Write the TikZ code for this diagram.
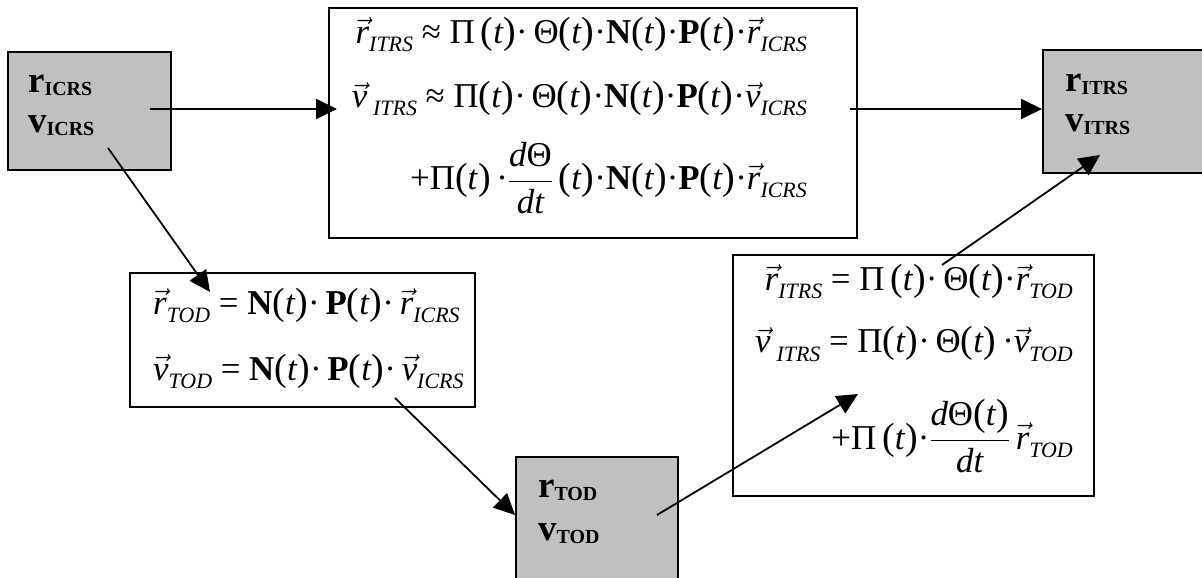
\RequirePackage{fix-cm}
\documentclass[tikz,border=0pt]{standalone}
\usepackage{fontspec}
\setmainfont{Liberation Serif}
\usetikzlibrary{arrows.meta}
\definecolor{boxgray}{RGB}{192,192,192}
\newcommand\eqsize{\fontsize{35}{40}\selectfont}
\newcommand\vv[1]{\ensuremath{\vec{\mbox{\itshape #1}}}}
\newcommand\sbs[1]{\raisebox{-8bp}{\fontsize{22}{22}\selectfont\itshape #1}}
\newcommand\lp{{\fontsize{38}{38}\selectfont(}}
\newcommand\rp{{\fontsize{38}{38}\selectfont)}}
\newcommand\tpar{\lp\textit{t}\rp}
\newcommand\gp{\hspace{0.25em}}
\newcommand\frc[2]{\ensuremath{\displaystyle\frac{\mbox{#1}}{\mbox{#2}}}}
\newcommand\glab[2]{{\fontsize{37}{37}\selectfont\bfseries #1}\raisebox{-3bp}{\fontsize{20}{20}\selectfont\bfseries #2}}
\begin{document}
\begin{tikzpicture}[x=1bp,y=-1bp,
  grayb/.style={draw=black, fill=boxgray, line width=2bp, anchor=north west, inner sep=0pt},
  eqb/.style={draw=black, fill=white, line width=2bp, anchor=north west, inner sep=0pt},
  arr/.style={-{Triangle[length=21bp,width=20bp]}, line width=1.8bp},
  eqline/.style={inner sep=0pt, font=\eqsize},
  lab/.style={inner sep=0pt, anchor=base west}]
\useasboundingbox (0,0) rectangle (1202,578);
\clip (0,0) rectangle (1202,578);
\fill[white] (0,0) rectangle (1202,578);
% boxes
\node[grayb, minimum width=163bp, minimum height=118bp] (icrs) at (7,51) {};
\node[eqb, minimum width=528bp, minimum height=230bp] (top) at (328,7) {};
\node[grayb, minimum width=200bp, minimum height=123bp] (itrs) at (1042,49) {};
\node[eqb, minimum width=345bp, minimum height=134bp] (todeq) at (129,272) {};
\node[grayb, minimum width=162bp, minimum height=150bp] (tod) at (515,456) {};
\node[eqb, minimum width=361bp, minimum height=241bp] (itrseq) at (732,254) {};
% gray labels
\node[lab] (icrsr) at (28,93) {\glab{r}{ICRS}};
\node[lab] (icrsv) at (28,133) {\glab{v}{ICRS}};
\node[lab] (itrsr) at (1065,92) {\glab{r}{ITRS}};
\node[lab] (itrsv) at (1065,132) {\glab{v}{ITRS}};
\node[lab] (todr) at (538,497) {\glab{r}{TOD}};
\node[lab] (todv) at (538,540) {\glab{v}{TOD}};
% top equations
\node[eqline, anchor=base east] (t1) at (807,44)
  {\vv{r}\sbs{ITRS}\gp≈\gp Π\,\tpar·\,Θ\tpar·\textbf{N}\tpar·\textbf{P}\tpar·\vv{r}\sbs{ICRS}};
\node[eqline, anchor=base east] (t2) at (807,108)
  {\vv{v}\,\sbs{ITRS}\gp≈\gp Π\tpar·\,Θ\tpar·\textbf{N}\tpar·\textbf{P}\tpar·\vv{v}\sbs{ICRS}};
\node[eqline, anchor=base east] (t3) at (807,190)
  {+Π\tpar\,·\frc{\itshape d\upshape Θ}{\itshape dt}\,\tpar·\textbf{N}\tpar·\textbf{P}\tpar·\vv{r}\sbs{ICRS}};
% TOD equations
\node[eqline, anchor=base west] (d1) at (153,315)
  {\vv{r}\sbs{TOD}\gp=\gp\textbf{N}\tpar·\,\textbf{P}\tpar·\,\vv{r}\sbs{ICRS}};
\node[eqline, anchor=base west] (d2) at (153,380)
  {\vv{v}\sbs{TOD}\gp=\gp\textbf{N}\tpar·\,\textbf{P}\tpar·\,\vv{v}\sbs{ICRS}};
% ITRS from TOD equations
\node[eqline, anchor=base east] (e1) at (1073,291)
  {\vv{r}\sbs{ITRS}\gp=\gp Π\,\tpar·\,Θ\tpar·\vv{r}\sbs{TOD}};
\node[eqline, anchor=base east] (e2) at (1073,353)
  {\vv{v}\,\sbs{ITRS}\gp=\gp Π\tpar·\,Θ\tpar\,·\vv{v}\sbs{TOD}};
\node[eqline, anchor=base east] (e3) at (1073,449)
  {+Π\,\tpar·\frc{\itshape d\upshape Θ\tpar}{\itshape dt}\,\vv{r}\sbs{TOD}};
% connector end points
\coordinate (a1s) at (150,109); \coordinate (a1e) at (337,109);
\coordinate (a2s) at (850,109); \coordinate (a2e) at (1042,109);
\coordinate (a3s) at (108,148); \coordinate (a3e) at (210,292);
\coordinate (a4s) at (395,398); \coordinate (a4e) at (515,515);
\coordinate (a5s) at (657,515); \coordinate (a5e) at (858,394);
\coordinate (a6s) at (942,265); \coordinate (a6e) at (1100,155);
\draw[arr] (a1s) -- (a1e);
\draw[arr] (a2s) -- (a2e);
\draw[arr] (a3s) -- (a3e);
\draw[arr] (a4s) -- (a4e);
\draw[arr] (a5s) -- (a5e);
\draw[arr] (a6s) -- (a6e);
\end{tikzpicture}
\end{document}
